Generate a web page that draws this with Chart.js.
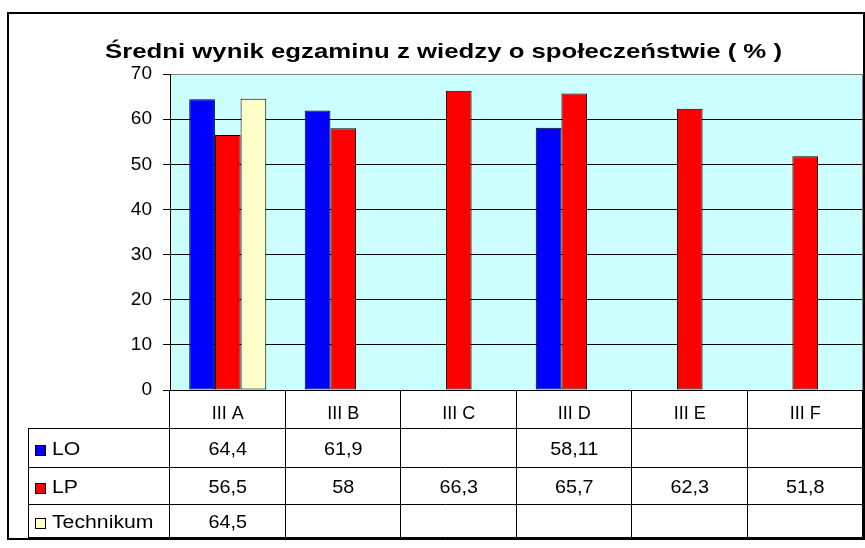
<!DOCTYPE html>
<html>
<head>
<meta charset="utf-8">
<script src="https://cdn.jsdelivr.net/npm/chart.js@4/dist/chart.umd.min.js"></script>
<style>
  html, body { margin: 0; padding: 0; background: #fff; }
  #wrap { width: 865px; height: 548px; }
</style>
</head>
<body>
<div id="wrap"><canvas id="c" width="865" height="548"></canvas></div>
<script>
const titleText = 'Średni wynik egzaminu z wiedzy o społeczeństwie ( % )';
const categories = ['III A', 'III B', 'III C', 'III D', 'III E', 'III F'];
const seriesNames = ['LO', 'LP', 'Technikum'];
const loValues = [64.4, 61.9, null, 58.11, null, null];
const lpValues = [56.5, 58, 66.3, 65.7, 62.3, 51.8];
const techValues = [64.5, null, null, null, null, null];
const seriesColors = ['#0000FF', '#FF0000', '#FFFFCC'];
const yTicks = [0, 10, 20, 30, 40, 50, 60, 70];

const FONT = '"Liberation Sans", Arial, sans-serif';
const ROW_BOTTOMS = [428, 467, 504, 537]; // header, LO, LP, Technikum
const TABLE_LEFT = 28;

const fmt = v => (v === null || v === undefined) ? '' : String(v).replace('.', ',');

// Draws text horizontally stretched (reference glyphs are wide)
function wideText(ctx, text, x, y, sx) {
  ctx.save();
  ctx.translate(x, y);
  ctx.scale(sx, 1);
  ctx.fillText(text, 0, 0);
  ctx.restore();
}

const bgPlugin = {
  id: 'bgPlugin',
  beforeDraw(chart) {
    const { ctx, chartArea: a } = chart;
    ctx.save();
    ctx.fillStyle = '#fff';
    ctx.fillRect(0, 0, chart.width, chart.height);
    ctx.fillStyle = '#CCFFFF';
    ctx.fillRect(a.left, a.top, a.right - a.left, a.bottom - a.top);
    // chart title
    ctx.fillStyle = '#000';
    ctx.font = 'bold 21px ' + FONT;
    ctx.textAlign = 'center';
    ctx.textBaseline = 'alphabetic';
    const tw = ctx.measureText(titleText).width;
    wideText(ctx, titleText, 443.5, 57.5, 677 / tw);
    ctx.restore();
  },
  afterDraw(chart) {
    const { ctx, chartArea: a } = chart;
    const xs = chart.scales.x;
    ctx.save();
    // plot right border (grey)
    ctx.strokeStyle = '#808080';
    ctx.lineWidth = 1;
    ctx.beginPath();
    ctx.moveTo(Math.round(a.right) - 0.5, a.top);
    ctx.lineTo(Math.round(a.right) - 0.5, a.bottom);
    ctx.stroke();

    // data table
    const n = categories.length;
    const colW = (a.right - a.left) / n;
    const bottom = ROW_BOTTOMS[ROW_BOTTOMS.length - 1];
    ctx.strokeStyle = '#000';
    ctx.lineWidth = 1;
    ctx.beginPath();
    for (let i = 0; i <= n; i++) {
      const x = Math.round(a.left + i * colW) - 0.5;
      ctx.moveTo(x, a.bottom);
      ctx.lineTo(x, bottom);
    }
    ctx.moveTo(TABLE_LEFT + 0.5, ROW_BOTTOMS[0]);
    ctx.lineTo(TABLE_LEFT + 0.5, bottom);
    ROW_BOTTOMS.forEach(y => {
      ctx.moveTo(TABLE_LEFT, y + 0.5);
      ctx.lineTo(Math.round(a.right), y + 0.5);
    });
    ctx.stroke();

    const rows = [loValues, lpValues, techValues];
    ctx.font = '18px ' + FONT;
    ctx.textBaseline = 'middle';
    rows.forEach((vals, r) => {
      const yc = (ROW_BOTTOMS[r] + ROW_BOTTOMS[r + 1]) / 2 + 3;
      ctx.fillStyle = seriesColors[r];
      ctx.fillRect(35, Math.round(yc) - 6, 11, 11);
      ctx.strokeStyle = '#000';
      ctx.strokeRect(35.5, Math.round(yc) - 5.5, 10, 10);
      ctx.fillStyle = '#000';
      ctx.textAlign = 'left';
      wideText(ctx, seriesNames[r], 52, yc, 1.18);
      ctx.textAlign = 'center';
      vals.forEach((v, i) => {
        const t = fmt(v);
        if (t) wideText(ctx, t, xs.getPixelForValue(i), yc, 1.1);
      });
    });

    // outer frame
    ctx.lineWidth = 2;
    ctx.strokeStyle = '#000';
    ctx.strokeRect(8, 13, 856, 526);
    ctx.restore();
  }
};

new Chart(document.getElementById('c'), {
  type: 'bar',
  data: {
    labels: categories,
    datasets: [
      { label: seriesNames[0], data: loValues, backgroundColor: seriesColors[0] },
      { label: seriesNames[1], data: lpValues, backgroundColor: seriesColors[1] },
      { label: seriesNames[2], data: techValues, backgroundColor: seriesColors[2] }
    ].map(d => Object.assign(d, {
      borderColor: '#000', borderWidth: 1, borderSkipped: false,
      categoryPercentage: 0.667, barPercentage: 1
    }))
  },
  options: {
    responsive: false,
    animation: false,
    devicePixelRatio: 1,
    layout: { padding: { left: 22, right: 2, top: 74, bottom: 0 } },
    plugins: {
      legend: { display: false },
      tooltip: { enabled: false },
      title: { display: false }
    },
    scales: {
      x: {
        afterFit(s) { s.height = 158; },
        grid: { display: false },
        border: { display: true, color: '#000', width: 1 },
        ticks: { color: '#000', font: { family: FONT, size: 18 }, padding: 5, maxRotation: 0 }
      },
      y: {
        min: 0, max: 70,
        afterFit(s) { s.width = 148; },
        afterBuildTicks(s) { s.ticks = yTicks.map(v => ({ value: v })); },
        grid: {
          color: ctx => (ctx.tick && ctx.tick.value === 70) ? '#808080' : '#000',
          tickColor: '#000',
          tickLength: 7,
          lineWidth: 1
        },
        border: { display: true, color: '#000', width: 1 },
        ticks: { color: '#000', font: { family: FONT, size: 19 }, padding: 11 }
      }
    }
  },
  plugins: [bgPlugin]
});
</script>
</body>
</html>
